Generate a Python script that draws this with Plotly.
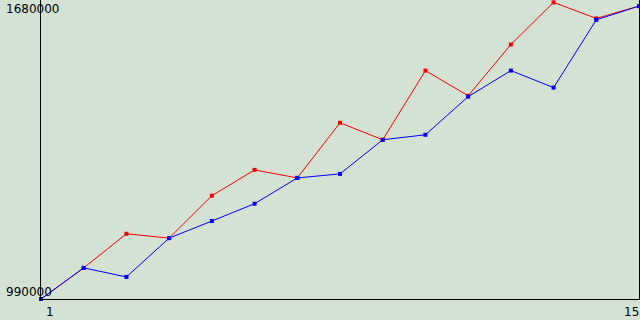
import plotly.graph_objects as go

x_vals = list(range(1, 16))
red_vals = [990000, 1061800, 1140500, 1130500, 1228400, 1287900, 1269400, 1396700,
            1357400, 1517100, 1459000, 1577300, 1674500, 1637500, 1666000]
blue_vals = [990000, 1061800, 1040900, 1130500, 1169900, 1209900, 1269400, 1278700,
             1357400, 1369000, 1456900, 1517100, 1477800, 1634300, 1666000]
y_min, y_max = 990000, 1680000
x_labels = ["1", "15"]

BG = "rgb(212,226,212)"
FONT = dict(family="DejaVu Sans", size=12, color="black")

fig = go.Figure()
fig.add_trace(go.Scatter(x=x_vals, y=red_vals, mode="lines+markers",
                         line=dict(color="#ff0000", width=1),
                         marker=dict(symbol="square", size=4, color="#ff0000"),
                         cliponaxis=False))
fig.add_trace(go.Scatter(x=x_vals, y=blue_vals, mode="lines+markers",
                         line=dict(color="#0000ff", width=1),
                         marker=dict(symbol="square", size=4, color="#0000ff"),
                         cliponaxis=False))

fig.update_layout(
    width=640, height=320,
    margin=dict(l=41, r=1, t=0, b=21),
    paper_bgcolor=BG, plot_bgcolor=BG,
    showlegend=False,
    font=FONT,
    xaxis=dict(range=[1, 15], showgrid=False, zeroline=False, showline=True,
               linecolor="black", linewidth=1, mirror=True, showticklabels=False,
               ticks=""),
    yaxis=dict(range=[y_min, y_max], showgrid=False, zeroline=False, showline=True,
               linecolor="black", linewidth=1, mirror=True, showticklabels=False,
               ticks=""),
)

# y-axis end labels
fig.add_annotation(x=0, xref="paper", y=y_max, yref="y", text=str(y_max),
                   showarrow=False, xanchor="left", yanchor="top",
                   xshift=-37, yshift=0, font=FONT)
fig.add_annotation(x=0, xref="paper", y=y_min, yref="y", text=str(y_min),
                   showarrow=False, xanchor="left", yanchor="bottom",
                   xshift=-37, yshift=-2, font=FONT)
# x-axis end labels
fig.add_annotation(x=x_vals[0], xref="x", y=0, yref="paper", text=x_labels[0],
                   showarrow=False, xanchor="left", yanchor="top",
                   xshift=3, yshift=-4, font=FONT)
fig.add_annotation(x=x_vals[-1], xref="x", y=0, yref="paper", text=x_labels[1],
                   showarrow=False, xanchor="right", yanchor="top",
                   xshift=2, yshift=-4, font=FONT)

fig.write_html("out.html")
